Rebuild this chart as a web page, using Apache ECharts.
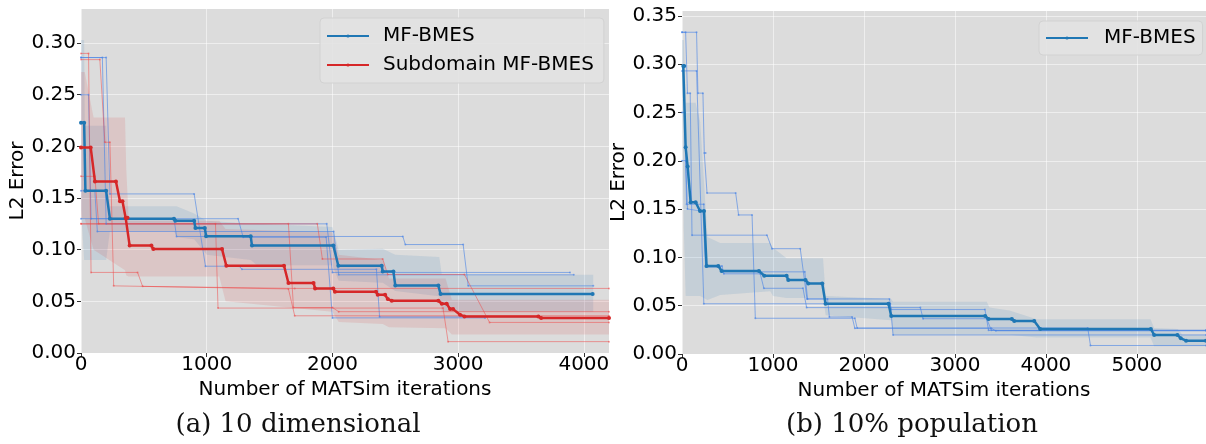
<!DOCTYPE html>
<html>
<head>
<meta charset="utf-8">
<script src="https://cdn.jsdelivr.net/npm/echarts@6/dist/echarts.min.js"></script>
<style>
html,body{margin:0;padding:0;background:#fff;}
#chart{width:1206px;height:444px;}
</style>
</head>
<body>
<div id="chart"></div>
<script>
// ---------- Panel (a): 10 dimensional ----------
const A_X_TICKS = [0, 1000, 2000, 3000, 4000];
const A_Y_TICKS = [0, 0.05, 0.10, 0.15, 0.20, 0.25, 0.30];
const A_MEAN_BLUE = [[0,0.223],[25,0.223],[35,0.157],[200,0.157],[230,0.130],[740,0.130],[750,0.128],[900,0.128],[910,0.121],[985,0.121],[995,0.113],[1350,0.113],[1360,0.104],[2007,0.104],[2047,0.0845],[2392,0.0845],[2400,0.079],[2485,0.079],[2500,0.0654],[2843,0.0654],[2860,0.057],[4070,0.057]];
const A_MEAN_RED = [[0,0.199],[77,0.199],[111,0.166],[278,0.166],[310,0.147],[330,0.147],[355,0.131],[370,0.131],[387,0.104],[560,0.104],[575,0.1006],[1122,0.1006],[1156,0.0845],[1615,0.0845],[1650,0.0677],[1850,0.0677],[1862,0.0625],[2007,0.0625],[2020,0.0593],[2347,0.0593],[2360,0.0564],[2419,0.0564],[2440,0.0522],[2472,0.0506],[2843,0.0506],[2870,0.0477],[2909,0.0477],[2936,0.0425],[2960,0.0425],[3015,0.037],[3050,0.0354],[3638,0.0354],[3660,0.0338],[4200,0.0338]];
const A_RUN_B1 = [[0,0.286],[200,0.286],[230,0.154],[900,0.154],[990,0.084],[1260,0.084],[1280,0.081],[2350,0.081],[2375,0.035],[3640,0.035]];
const A_RUN_B2 = [[0,0.286],[170,0.286],[200,0.125],[1955,0.125],[2000,0.078],[3890,0.078]];
const A_RUN_B3 = [[0,0.157],[110,0.157],[130,0.1176],[2010,0.1176],[2050,0.0757],[3920,0.0757]];
const A_RUN_B4 = [[0,0.13],[740,0.13],[760,0.1128],[2560,0.1128],[2580,0.105],[3040,0.105],[3080,0.065],[4075,0.065]];
const A_RUN_B5 = [[0,0.25],[60,0.25],[80,0.13],[1250,0.13],[1290,0.112],[1950,0.112],[2000,0.034],[3214,0.034]];
const A_RUN_R1 = [[0,0.29],[60,0.29],[80,0.078],[450,0.078],[490,0.0645],[1700,0.0625],[4200,0.0625]];
const A_RUN_R2 = [[0,0.171],[110,0.171],[140,0.125],[1880,0.125],[1920,0.091],[2400,0.091],[2440,0.076],[3050,0.076],[3250,0.0296],[4200,0.0296]];
const A_RUN_R3 = [[0,0.284],[150,0.284],[190,0.204],[230,0.204],[260,0.065],[1650,0.062],[1700,0.036],[4200,0.036]];
const A_RUN_R4 = [[0,0.125],[1070,0.125],[1090,0.0435],[2880,0.0435],[2920,0.011],[4200,0.011]];
const A_RUN_R5 = [[0,0.125],[1650,0.125],[1690,0.044],[2000,0.044],[2050,0.04],[4200,0.04]];
// band rows: [x, lower, upper]
const A_BAND_BLUE = [[0,0.14,0.303],[25,0.09,0.303],[30,0.09,0.22],[200,0.09,0.22],[230,0.118,0.142],[740,0.118,0.142],[760,0.112,0.142],[900,0.11,0.135],[1000,0.095,0.128],[1350,0.09,0.125],[1400,0.085,0.125],[2000,0.085,0.122],[2050,0.07,0.1],[2400,0.068,0.101],[2500,0.06,0.095],[2850,0.055,0.093],[2870,0.04,0.0757],[4075,0.04,0.0757]];
const A_BAND_RED = [[0,0.13,0.272],[30,0.13,0.272],[100,0.1,0.228],[350,0.08,0.228],[360,0.075,0.178],[380,0.074,0.128],[1100,0.074,0.128],[1150,0.05,0.12],[2000,0.04,0.117],[2050,0.03,0.095],[2400,0.028,0.09],[2450,0.025,0.072],[2900,0.024,0.072],[2950,0.018,0.0515],[4200,0.018,0.0515]];

// ---------- Panel (b): 10% population ----------
const B_X_TICKS = [0, 1000, 2000, 3000, 4000, 5000];
const B_Y_TICKS = [0, 0.05, 0.10, 0.15, 0.20, 0.25, 0.30, 0.35];
const B_MEAN = [[14,0.298],[25,0.298],[40,0.214],[62,0.194],[95,0.157],[150,0.157],[198,0.148],[242,0.148],[270,0.091],[399,0.091],[435,0.086],[846,0.086],[904,0.081],[1150,0.081],[1168,0.0766],[1358,0.0766],[1388,0.073],[1542,0.073],[1578,0.052],[2270,0.052],[2300,0.0393],[3333,0.0393],[3369,0.0362],[3626,0.0362],[3652,0.0342],[3872,0.0342],[3937,0.0259],[5154,0.0259],[5190,0.0197],[5446,0.0197],[5483,0.0162],[5541,0.0138],[5760,0.0138]];
const B_RUN_1 = [[0,0.333],[160,0.333],[175,0.27],[230,0.27],[245,0.208],[260,0.208],[275,0.1666],[590,0.1666],[622,0.1439],[770,0.1439],[806,0.037],[1900,0.037],[1925,0.0269],[4460,0.0269],[4490,0.0088],[5760,0.0088]];
const B_RUN_2 = [[0,0.333],[40,0.333],[60,0.27],[90,0.27],[110,0.123],[934,0.123],[989,0.109],[1300,0.109],[1374,0.057],[2280,0.057],[2300,0.046],[3330,0.046],[3370,0.0245],[5760,0.0245]];
const B_RUN_3 = [[0,0.293],[160,0.293],[240,0.052],[2290,0.052],[2320,0.0197],[5760,0.0197]];
const B_RUN_4 = [[0,0.25],[30,0.25],[50,0.155],[240,0.155],[260,0.091],[440,0.091],[460,0.083],[860,0.083],[900,0.068],[1330,0.068],[1370,0.048],[2620,0.048],[2650,0.0365],[3350,0.0365],[3400,0.0245],[5760,0.0245]];
const B_RUN_5 = [[0,0.2],[40,0.2],[60,0.15],[230,0.148],[260,0.09],[420,0.09],[440,0.085],[1350,0.085],[1380,0.057],[1600,0.057],[1620,0.0383],[1870,0.0383],[1900,0.0266],[3400,0.0266],[3450,0.024],[5760,0.024]];
const B_BAND = [[0,0.27,0.325],[20,0.13,0.325],[40,0.06,0.26],[150,0.06,0.26],[200,0.06,0.24],[280,0.056,0.121],[420,0.061,0.115],[970,0.065,0.115],[1000,0.06,0.11],[1150,0.058,0.099],[1550,0.058,0.099],[1580,0.04,0.06],[2300,0.035,0.057],[2320,0.02,0.054],[3350,0.02,0.054],[3380,0.02,0.048],[3600,0.02,0.045],[3900,0.017,0.036],[5150,0.017,0.036],[5190,0.008,0.027],[5450,0.008,0.026],[5500,0.008,0.02],[5760,0.008,0.02]];

const FONT = 'DejaVu Sans';
const FS = 20;
const C_BLUE = '#1f77b4', C_RED = '#d62728';
const C_BLUE_RUN = 'rgba(70,130,230,0.6)', C_RED_RUN = 'rgba(240,70,70,0.5)';

function bandSeries(band, fill, idx) {
  return {
    type: 'custom', xAxisIndex: idx, yAxisIndex: idx, silent: true, clip: true, z: 1,
    data: band, encode: {x: 0, y: [1, 2]},
    renderItem: function (params, api) {
      if (params.dataIndex !== 0) return null;
      const pts = [];
      for (let i = 0; i < band.length; i++) pts.push(api.coord([band[i][0], band[i][2]]));
      for (let i = band.length - 1; i >= 0; i--) pts.push(api.coord([band[i][0], band[i][1]]));
      return {type: 'polygon', shape: {points: pts}, style: {fill: fill}};
    }
  };
}
function runSeries(name, data, color, idx) {
  return {type: 'line', name: name, data: data, xAxisIndex: idx, yAxisIndex: idx, z: 3,
    symbol: 'circle', symbolSize: 2, showSymbol: true, clip: true, silent: true,
    lineStyle: {width: 1, color: color}, itemStyle: {color: color}};
}
function meanSeries(name, data, color, idx) {
  return {type: 'line', name: name, data: data, xAxisIndex: idx, yAxisIndex: idx, z: 6,
    symbol: 'circle', symbolSize: 4, showSymbol: true, clip: true, silent: true,
    lineStyle: {width: 2.5, color: color}, itemStyle: {color: color}};
}
function xAxis(idx, max, ticks) {
  return {type: 'value', gridIndex: idx, min: 0, max: max, interval: 1000,
    name: 'Number of MATSim iterations', nameLocation: 'middle', nameGap: 21,
    nameTextStyle: {fontFamily: FONT, fontSize: FS, color: '#000'},
    axisLine: {show: false},
    axisTick: {show: true, length: 4, lineStyle: {color: '#333'}, customValues: ticks},
    axisLabel: {fontFamily: FONT, fontSize: FS, color: '#000', margin: 2, customValues: ticks, formatter: v => String(v)},
    splitLine: {show: true, lineStyle: {color: 'rgba(255,255,255,0.5)', width: 1}}};
}
function yAxis(idx, max, ticks) {
  return {type: 'value', gridIndex: idx, min: 0, max: max, interval: 0.05,
    name: 'L2 Error', nameLocation: 'middle', nameGap: 50,
    nameTextStyle: {fontFamily: FONT, fontSize: FS, color: '#000'},
    axisLine: {show: false},
    axisTick: {show: true, length: 4, lineStyle: {color: '#333'}, customValues: ticks},
    axisLabel: {fontFamily: FONT, fontSize: FS, color: '#000', margin: 5, customValues: ticks, formatter: v => v.toFixed(2)},
    splitLine: {show: true, lineStyle: {color: 'rgba(255,255,255,0.5)', width: 1}}};
}

const chart = echarts.init(document.getElementById('chart'), null, {renderer: 'canvas'});
chart.setOption({
  animation: false,
  backgroundColor: '#ffffff',
  grid: [
    {left: 81, top: 9, width: 528, height: 344, show: true, backgroundColor: '#dcdcdc', borderWidth: 0},
    {left: 682, top: 11, width: 524, height: 343, show: true, backgroundColor: '#dcdcdc', borderWidth: 0}
  ],
  xAxis: [xAxis(0, 4200, A_X_TICKS), xAxis(1, 5760, B_X_TICKS)],
  yAxis: [yAxis(0, 0.333, A_Y_TICKS), yAxis(1, 0.355, B_Y_TICKS)],
  legend: [
    {data: ['MF-BMES', 'Subdomain MF-BMES'], orient: 'vertical', left: 320, top: 18, selectedMode: false,
      itemWidth: 42, itemHeight: 4, itemGap: 7,
      textStyle: {fontFamily: FONT, fontSize: FS, color: '#000', lineHeight: 22, padding: [0, 0, 0, 9]},
      backgroundColor: 'rgba(226,226,226,0.9)', borderColor: '#d2d2d2', borderWidth: 1, borderRadius: 4,
      padding: [7, 10, 7, 6]},
    {data: ['MF-BMES'], orient: 'vertical', left: 1039, top: 21, selectedMode: false,
      itemWidth: 42, itemHeight: 4,
      textStyle: {fontFamily: FONT, fontSize: FS, color: '#000', lineHeight: 22, padding: [0, 0, 0, 11]},
      backgroundColor: 'rgba(226,226,226,0.9)', borderColor: '#d2d2d2', borderWidth: 1, borderRadius: 4,
      padding: [6, 7, 6, 6]}
  ],
  graphic: [
    {type: 'text', x: 298, y: 425, style: {text: '(a) 10 dimensional', font: '26px "DejaVu Serif"', fill: '#111', textAlign: 'center', textVerticalAlign: 'middle'}},
    {type: 'text', x: 912, y: 425, style: {text: '(b) 10% population', font: '26px "DejaVu Serif"', fill: '#111', textAlign: 'center', textVerticalAlign: 'middle'}}
  ],
  series: [
    bandSeries(A_BAND_BLUE, 'rgba(31,119,180,0.12)', 0),
    bandSeries(A_BAND_RED, 'rgba(214,39,40,0.12)', 0),
    runSeries('a-b1', A_RUN_B1, C_BLUE_RUN, 0),
    runSeries('a-b2', A_RUN_B2, C_BLUE_RUN, 0),
    runSeries('a-b3', A_RUN_B3, C_BLUE_RUN, 0),
    runSeries('a-b4', A_RUN_B4, C_BLUE_RUN, 0),
    runSeries('a-b5', A_RUN_B5, C_BLUE_RUN, 0),
    runSeries('a-r1', A_RUN_R1, C_RED_RUN, 0),
    runSeries('a-r2', A_RUN_R2, C_RED_RUN, 0),
    runSeries('a-r3', A_RUN_R3, C_RED_RUN, 0),
    runSeries('a-r4', A_RUN_R4, C_RED_RUN, 0),
    runSeries('a-r5', A_RUN_R5, C_RED_RUN, 0),
    meanSeries('MF-BMES', A_MEAN_BLUE, C_BLUE, 0),
    meanSeries('Subdomain MF-BMES', A_MEAN_RED, C_RED, 0),
    bandSeries(B_BAND, 'rgba(31,119,180,0.12)', 1),
    runSeries('b-1', B_RUN_1, C_BLUE_RUN, 1),
    runSeries('b-2', B_RUN_2, C_BLUE_RUN, 1),
    runSeries('b-3', B_RUN_3, C_BLUE_RUN, 1),
    runSeries('b-4', B_RUN_4, C_BLUE_RUN, 1),
    runSeries('b-5', B_RUN_5, C_BLUE_RUN, 1),
    meanSeries('MF-BMES', B_MEAN, C_BLUE, 1)
  ]
});
</script>
</body>
</html>
